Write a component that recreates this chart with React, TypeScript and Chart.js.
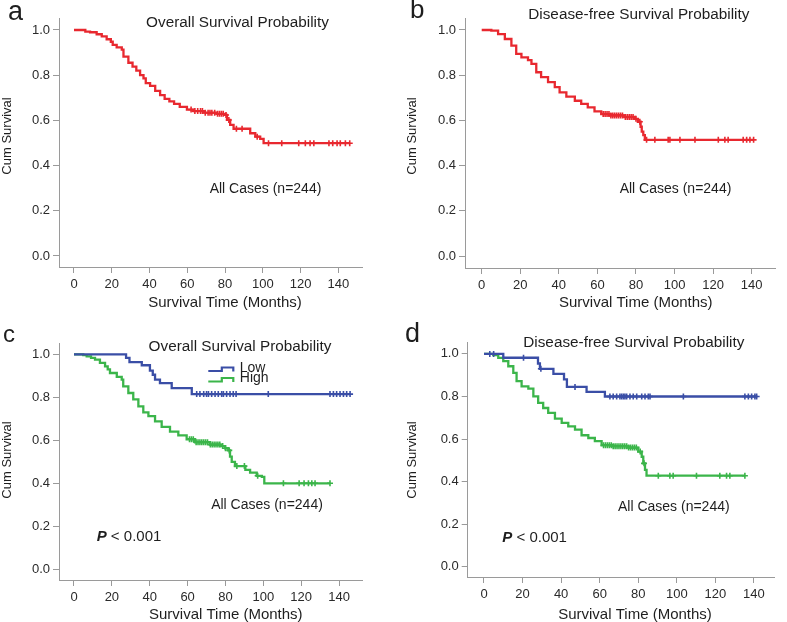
import React, { useEffect, useRef } from "react";
import { Chart, registerables } from "chart.js";

Chart.register(...registerables);

// ---------- tick labels / texts ----------
const X_TICKS = [0, 20, 40, 60, 80, 100, 120, 140];
const Y_TICKS = [0, 0.2, 0.4, 0.6, 0.8, 1.0];
const TITLE_OS = "Overall Survival Probability";
const TITLE_DFS = "Disease-free Survival Probability";
const CASES_TEXT = "All Cases (n=244)";
const X_TITLE = "Survival Time (Months)";
const Y_TITLE = "Cum Survival";
const P_LABEL = "P";
const P_VALUE = " < 0.001";
const GROUP_LABELS = ["Low", "High"];
const PANEL_LETTERS = ["a", "b", "c", "d"];

// ---------- (a) overall survival, all cases ----------
const OS_ALL_TIME = [0, 6, 8.5, 12, 14.7, 17.3, 19.5, 20.5, 22.6, 25.3, 26.2, 28.8, 31, 33, 35, 36.8, 38, 40.3, 43, 45.6, 48, 50.5, 53, 56, 59.8, 63.3, 68.6, 75.7, 80, 81, 82.7, 84.5, 93.3, 96, 98.6, 100.4, 146];
const OS_ALL_SURV = [1, 0.993, 0.99, 0.981, 0.972, 0.959, 0.948, 0.934, 0.923, 0.913, 0.882, 0.855, 0.838, 0.82, 0.8, 0.786, 0.765, 0.753, 0.731, 0.712, 0.695, 0.684, 0.673, 0.66, 0.648, 0.641, 0.634, 0.629, 0.624, 0.602, 0.58, 0.563, 0.543, 0.528, 0.518, 0.499, 0.499];
const OS_ALL_CENSOR = [62, 64, 65.5, 67, 68, 69.5, 71, 72, 73, 74.5, 76, 77, 78, 79, 80.5, 82, 86, 89, 97, 103, 110, 119, 122.5, 125, 127, 135, 137, 139.3, 141, 143.7, 146];

// ---------- (b) disease-free survival, all cases ----------
const DFS_ALL_TIME = [0, 5, 8.5, 12, 15.4, 17.9, 20.6, 24, 25.8, 28.3, 30.8, 34.4, 37.9, 40.4, 43.9, 48.3, 51.6, 55, 58.5, 62, 66.5, 74, 79.3, 81, 82.4, 83, 83.8, 84.6, 141];
const DFS_ALL_SURV = [1, 0.997, 0.982, 0.96, 0.931, 0.894, 0.879, 0.867, 0.85, 0.813, 0.791, 0.769, 0.747, 0.724, 0.705, 0.687, 0.673, 0.658, 0.64, 0.628, 0.622, 0.615, 0.607, 0.594, 0.572, 0.55, 0.535, 0.514, 0.514];
const DFS_ALL_CENSOR = [63, 64, 65, 66, 67, 68, 69, 70, 71, 72, 73, 74.5, 75.5, 76.5, 77.5, 78.5, 80, 82, 85.5, 89.8, 96.7, 97.6, 102.8, 110.6, 122.7, 126.1, 127.8, 135.6, 137.4, 139.1, 141];

// ---------- (c) overall survival by group ----------
const OS_LOW_TIME = [0, 27.5, 29.3, 35.8, 40.1, 41.6, 42.8, 45.4, 51.6, 62.2, 145.8];
const OS_LOW_SURV = [1, 0.983, 0.964, 0.949, 0.924, 0.905, 0.882, 0.866, 0.843, 0.815, 0.815];
const OS_LOW_CENSOR = [64.8, 66.5, 68.5, 70, 71, 72.7, 74.5, 76.2, 78, 78.9, 80.6, 82.4, 84.1, 85.6, 102.6, 135.2, 137, 138.7, 140.5, 142.3, 144, 145.8];

const OS_HIGH_TIME = [0, 4.9, 6.7, 9, 11.1, 13.7, 16.4, 17.8, 19, 22.6, 25.2, 26, 28.7, 31.3, 34, 36.6, 39.3, 42.8, 46.3, 50.7, 55.1, 59.5, 63.9, 71.8, 77.5, 79.8, 81.5, 82.4, 83.3, 85, 90.5, 93, 96.5, 99.2, 100.5, 135.2];
const OS_HIGH_SURV = [1, 0.996, 0.99, 0.983, 0.975, 0.96, 0.944, 0.93, 0.913, 0.895, 0.882, 0.851, 0.82, 0.79, 0.758, 0.73, 0.712, 0.688, 0.662, 0.64, 0.623, 0.605, 0.591, 0.58, 0.573, 0.563, 0.553, 0.524, 0.5, 0.48, 0.462, 0.45, 0.435, 0.43, 0.4, 0.4];
const OS_HIGH_CENSOR = [61, 62, 63, 64.5, 65.5, 66.5, 67.5, 68.5, 69.5, 70.5, 72, 73, 74, 75, 76, 77, 78.5, 80, 82, 86, 90, 97, 110.6, 118.9, 121.5, 123.8, 125.6, 127.3, 135.2];

// ---------- (d) disease-free survival by group ----------
const DFS_LOW_TIME = [0, 10, 28, 29, 36, 41.5, 43, 53.2, 62.7, 141.4];
const DFS_LOW_SURV = [1, 0.982, 0.955, 0.93, 0.906, 0.88, 0.845, 0.822, 0.8, 0.8];
const DFS_LOW_CENSOR = [3, 5, 20.5, 29.5, 47.2, 65.3, 67, 68.8, 70.5, 71.4, 72.3, 73.1, 74, 75.7, 77.4, 79.2, 81.8, 83.5, 85.2, 86.1, 103.4, 135.3, 137.1, 138.8, 140.5, 141.4];

const DFS_HIGH_TIME = [0, 4.8, 7.4, 10, 12.6, 15.2, 16.9, 19.5, 23, 25.6, 28.1, 30.7, 33.3, 36.8, 40.3, 43.7, 47.2, 50.6, 54.1, 57.5, 61, 67, 75, 80, 81.8, 82.6, 83.5, 84.3, 135.3];
const DFS_HIGH_SURV = [1, 0.994, 0.981, 0.966, 0.942, 0.911, 0.872, 0.848, 0.837, 0.801, 0.77, 0.746, 0.723, 0.696, 0.676, 0.66, 0.644, 0.618, 0.605, 0.59, 0.571, 0.566, 0.56, 0.541, 0.517, 0.486, 0.455, 0.428, 0.428];
const DFS_HIGH_CENSOR = [62, 63, 64, 65, 66, 67, 68, 69, 70, 71, 72, 73, 74, 75, 76, 77, 78, 79, 81, 83, 90.4, 96.4, 98.1, 110.2, 122.3, 125.8, 127.5, 135.3];

// ---------- styles ----------
const RED = "#e8282f";
const BLUE = "#3a4ea6";
const GREEN = "#3bb54a";
const AXIS = "#9a9a9a";
const TEXT = "#1e1e1e";
const FONT = '"Liberation Sans", Arial, Helvetica, sans-serif';

type Series = { time: number[]; surv: number[]; censor: number[]; color: string };

type PanelCfg = {
  left: number;
  top: number;
  width: number;
  height: number;
  area: { left: number; top: number; right: number; bottom: number };
  xMin: number;
  xMax: number;
  yMin: number;
  yMax: number;
  series: Series[];
  letter: string;
  letterPos: [number, number, number];
  title: string;
  titlePos: [number, number];
  casesPos: [number, number];
  xTitlePos: [number, number];
  yTitlePos: [number, number];
  pPos?: [number, number];
  legend?: { x: number; y: number }[];
};

function survAt(time: number[], surv: number[], t: number): number {
  let s = surv[0];
  for (let i = 0; i < time.length; i++) {
    if (time[i] <= t) s = surv[i];
  }
  return s;
}

const PANELS: PanelCfg[] = [
  {
    left: 0, top: 0, width: 393, height: 312,
    area: { left: 59, top: 18, right: 362, bottom: 267 },
    xMin: -7.94, xMax: 152.5, yMin: -0.0487, yMax: 1.053,
    series: [{ time: OS_ALL_TIME, surv: OS_ALL_SURV, censor: OS_ALL_CENSOR, color: RED }],
    letter: PANEL_LETTERS[0], letterPos: [8, 20, 27],
    title: TITLE_OS, titlePos: [237.5, 22.7],
    casesPos: [265.5, 189.3],
    xTitlePos: [225, 303], yTitlePos: [7.5, 136],
  },
  {
    left: 393, top: 0, width: 394, height: 312,
    area: { left: 72, top: 18, right: 382, bottom: 268 },
    xMin: -8.66, xMax: 152.1, yMin: -0.053, yMax: 1.053,
    series: [{ time: DFS_ALL_TIME, surv: DFS_ALL_SURV, censor: DFS_ALL_CENSOR, color: RED }],
    letter: PANEL_LETTERS[1], letterPos: [17, 18, 26],
    title: TITLE_DFS, titlePos: [245.8, 15],
    casesPos: [282.5, 189.3],
    xTitlePos: [242.8, 303.3], yTitlePos: [19.7, 136],
  },
  {
    left: 0, top: 312, width: 393, height: 310,
    area: { left: 59, top: 31, right: 362, bottom: 268 },
    xMin: -7.92, xMax: 152.1, yMin: -0.0498, yMax: 1.0526,
    series: [
      { time: OS_LOW_TIME, surv: OS_LOW_SURV, censor: OS_LOW_CENSOR, color: BLUE },
      { time: OS_HIGH_TIME, surv: OS_HIGH_SURV, censor: OS_HIGH_CENSOR, color: GREEN },
    ],
    letter: PANEL_LETTERS[2], letterPos: [3, 30, 24],
    title: TITLE_OS, titlePos: [240, 34.7],
    casesPos: [267, 193],
    xTitlePos: [225.8, 303], yTitlePos: [7.5, 148],
    pPos: [96.7, 225.3],
    legend: [{ x: 208.3, y: 56 }, { x: 208.3, y: 66.5 }],
  },
  {
    left: 393, top: 312, width: 394, height: 310,
    area: { left: 74.7, top: 30, right: 381, bottom: 265 },
    xMin: -8.45, xMax: 150.4, yMin: -0.048, yMax: 1.056,
    series: [
      { time: DFS_LOW_TIME, surv: DFS_LOW_SURV, censor: DFS_LOW_CENSOR, color: BLUE },
      { time: DFS_HIGH_TIME, surv: DFS_HIGH_SURV, censor: DFS_HIGH_CENSOR, color: GREEN },
    ],
    letter: PANEL_LETTERS[3], letterPos: [12, 30, 27],
    title: TITLE_DFS, titlePos: [240.8, 30.7],
    casesPos: [280.8, 194.7],
    xTitlePos: [242, 303], yTitlePos: [19.5, 148],
    pPos: [109.3, 226.3],
  },
];

function makeTextPlugin(cfg: PanelCfg) {
  return {
    id: "panelText" + cfg.letter,
    afterDraw(chart: any) {
      const ctx: CanvasRenderingContext2D = chart.ctx;
      ctx.save();
      ctx.fillStyle = TEXT;

      // panel letter
      ctx.font = `${cfg.letterPos[2]}px ${FONT}`;
      ctx.textAlign = "left";
      ctx.textBaseline = "alphabetic";
      ctx.fillText(cfg.letter, cfg.letterPos[0], cfg.letterPos[1]);

      ctx.textBaseline = "middle";
      ctx.textAlign = "center";
      // title
      ctx.font = `15.3px ${FONT}`;
      ctx.fillText(cfg.title, cfg.titlePos[0], cfg.titlePos[1]);
      // cases
      ctx.font = `14px ${FONT}`;
      ctx.fillText(CASES_TEXT, cfg.casesPos[0], cfg.casesPos[1]);
      // x title
      ctx.font = `15px ${FONT}`;
      ctx.fillText(X_TITLE, cfg.xTitlePos[0], cfg.xTitlePos[1]);
      // y title
      ctx.save();
      ctx.translate(cfg.yTitlePos[0], cfg.yTitlePos[1]);
      ctx.rotate(-Math.PI / 2);
      ctx.font = `13px ${FONT}`;
      ctx.fillText(Y_TITLE, 0, 0);
      ctx.restore();

      // p value
      if (cfg.pPos) {
        ctx.textAlign = "left";
        ctx.font = `italic bold 15px ${FONT}`;
        ctx.fillText(P_LABEL, cfg.pPos[0], cfg.pPos[1]);
        const w = ctx.measureText(P_LABEL).width;
        ctx.font = `15px ${FONT}`;
        ctx.fillText(P_VALUE, cfg.pPos[0] + w, cfg.pPos[1]);
      }

      // legend
      if (cfg.legend) {
        cfg.legend.forEach((l, i) => {
          const color = cfg.series[i].color;
          ctx.strokeStyle = color;
          ctx.lineWidth = 2.2;
          ctx.beginPath();
          ctx.moveTo(l.x, l.y + 3);
          ctx.lineTo(l.x + 13.5, l.y + 3);
          ctx.lineTo(l.x + 13.5, l.y - 0.5);
          ctx.lineTo(l.x + 25, l.y - 0.5);
          ctx.lineTo(l.x + 25, l.y + 3.5);
          ctx.stroke();
          ctx.fillStyle = TEXT;
          ctx.textAlign = "left";
          ctx.font = `14px ${FONT}`;
          ctx.fillText(GROUP_LABELS[i], l.x + 31.5, l.y);
        });
      }
      ctx.restore();
    },
  };
}

function KMPanel({ cfg }: { cfg: PanelCfg }) {
  const ref = useRef<HTMLCanvasElement | null>(null);

  useEffect(() => {
    const canvas = ref.current;
    if (!canvas) return;
    const datasets: any[] = [];
    cfg.series.forEach((s) => {
      datasets.push({
        type: "scatter",
        data: s.time.map((t, i) => ({ x: t, y: s.surv[i] })),
        showLine: true,
        stepped: "before",
        borderColor: s.color,
        backgroundColor: s.color,
        borderWidth: 2.3,
        pointRadius: 0,
        fill: false,
      });
      datasets.push({
        type: "scatter",
        data: s.censor.map((t) => ({ x: t, y: survAt(s.time, s.surv, t) })),
        showLine: false,
        pointStyle: "cross",
        pointRadius: 3,
        borderColor: s.color,
        backgroundColor: s.color,
        borderWidth: 1.6,
      });
    });

    const tickFont = { family: FONT, size: 13 };
    const chart = new Chart(canvas, {
      type: "scatter",
      data: { datasets },
      options: {
        animation: false,
        responsive: false,
        events: [],
        layout: {
          padding: { left: 0, top: cfg.area.top, right: cfg.width - cfg.area.right, bottom: 0 },
        },
        plugins: { legend: { display: false }, tooltip: { enabled: false }, title: { display: false } },
        scales: {
          x: {
            type: "linear",
            min: cfg.xMin,
            max: cfg.xMax,
            afterBuildTicks: (scale: any) => {
              scale.ticks = X_TICKS.map((v) => ({ value: v }));
            },
            afterFit: (scale: any) => {
              scale.height = cfg.height - cfg.area.bottom;
            },
            grid: { display: true, drawOnChartArea: false, drawTicks: true, tickLength: 6, color: AXIS, lineWidth: 1 },
            border: { display: true, color: AXIS, width: 1 },
            ticks: {
              font: tickFont,
              color: "#2a2a2a",
              padding: 4,
              maxRotation: 0,
              autoSkip: false,
              callback: (v: any) => String(v),
            },
          },
          y: {
            type: "linear",
            min: cfg.yMin,
            max: cfg.yMax,
            afterBuildTicks: (scale: any) => {
              scale.ticks = Y_TICKS.map((v) => ({ value: v }));
            },
            afterFit: (scale: any) => {
              scale.width = cfg.area.left;
            },
            grid: { display: true, drawOnChartArea: false, drawTicks: true, tickLength: 6, color: AXIS, lineWidth: 1 },
            border: { display: true, color: AXIS, width: 1 },
            ticks: {
              font: tickFont,
              color: "#2a2a2a",
              padding: 3,
              autoSkip: false,
              callback: (v: any) => Number(v).toFixed(1),
            },
          },
        },
      } as any,
      plugins: [makeTextPlugin(cfg)],
    });
    return () => chart.destroy();
  }, [cfg]);

  return (
    <canvas
      ref={ref}
      width={cfg.width}
      height={cfg.height}
      style={{ position: "absolute", left: cfg.left, top: cfg.top, width: cfg.width, height: cfg.height }}
    />
  );
}

export default function App() {
  return (
    <div style={{ position: "absolute", left: 0, top: 0, width: 787, height: 622, background: "#ffffff", overflow: "hidden" }}>
      {PANELS.map((p) => (
        <KMPanel key={p.letter} cfg={p} />
      ))}
    </div>
  );
}
